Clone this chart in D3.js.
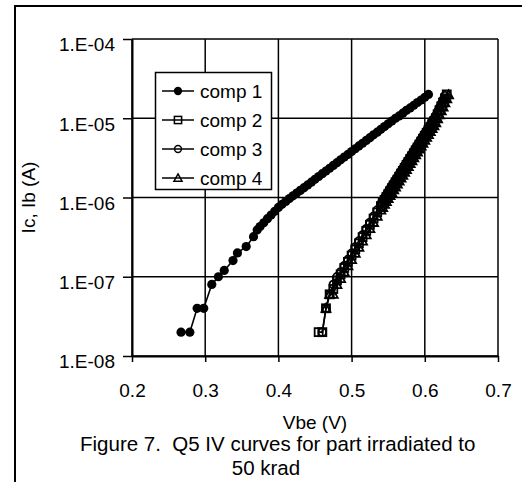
<!DOCTYPE html>
<html><head><meta charset="utf-8">
<script src="https://cdn.jsdelivr.net/npm/d3@7"></script>
<style>
html,body{margin:0;padding:0;background:#fff;}
svg{display:block;}
text{font-family:"Liberation Sans",Arial,sans-serif;fill:#000;}
</style></head>
<body><svg id="c" width="522" height="482"></svg>
<script>
const xTicks = [0.2, 0.3, 0.4, 0.5, 0.6, 0.7];
const yTicks = [1e-8, 1e-7, 1e-6, 1e-5, 1e-4];
const yTickLabels = ["1.E-08", "1.E-07", "1.E-06", "1.E-05", "1.E-04"];
const seriesNames = ["comp 1", "comp 2", "comp 3", "comp 4"];

const comp1Vbe = [0.267,0.279,0.289,0.298,0.309,0.318,0.326,0.338,0.344,0.356,0.366,0.371,
  0.375,0.38,0.385,0.39,0.395,0.40,0.405,0.41,0.415,0.42,0.425,0.43,0.435,0.44,0.445,0.45,
  0.455,0.46,0.465,0.47,0.475,0.48,0.485,0.49,0.495,0.50,0.505,0.51,0.515,0.52,0.525,0.53,
  0.535,0.54,0.545,0.55,0.555,0.56,0.565,0.57,0.575,0.58,0.585,0.59,0.595,0.60,0.605];
const comp1I = [2e-8,2e-8,4e-8,4e-8,8e-8,1.0e-7,1.2e-7,1.6e-7,2.0e-7,2.4e-7,3.2e-7,3.9e-7,
  4.3e-7,4.8e-7,5.4e-7,6.0e-7,6.7e-7,7.5e-7,8.2e-7,8.9e-7,9.7e-7,1.05e-6,1.14e-6,1.23e-6,1.33e-6,1.44e-6,1.56e-6,1.70e-6,
  1.84e-6,2.0e-6,2.16e-6,2.34e-6,2.54e-6,2.75e-6,2.99e-6,3.24e-6,3.5e-6,3.8e-6,4.12e-6,4.47e-6,4.84e-6,5.25e-6,5.69e-6,6.17e-6,
  6.68e-6,7.24e-6,7.85e-6,8.5e-6,9.2e-6,1.0e-5,1.07e-5,1.16e-5,1.26e-5,1.35e-5,1.46e-5,1.58e-5,1.70e-5,1.84e-5,2.0e-5];

const comp2Vbe = [0.455,0.46,0.465,0.47,0.475,0.48,0.485,0.49,0.495,0.50,0.505,0.51,0.515,0.52,0.525,0.53,0.535,0.54,
  0.5425,0.545,0.5475,0.55,0.5525,0.555,0.5575,0.56,0.5625,0.565,0.5675,0.57,0.5725,0.575,0.5775,0.58,0.5825,0.585,
  0.5875,0.59,0.5925,0.595,0.5975,0.60,0.6025,0.605,0.6075,0.61,0.6125,0.615,0.6175,0.62,0.6225,0.625,0.6275,0.63];
const comp2I = [2e-8,2e-8,4e-8,6e-8,7e-8,9e-8,1.07e-7,1.29e-7,1.54e-7,1.85e-7,2.21e-7,2.64e-7,3.16e-7,3.79e-7,4.53e-7,5.42e-7,6.49e-7,7.78e-7,
  8.55e-7,9.31e-7,1.01e-6,1.10e-6,1.20e-6,1.31e-6,1.42e-6,1.55e-6,1.68e-6,1.83e-6,2.0e-6,2.17e-6,2.36e-6,2.57e-6,2.80e-6,3.05e-6,3.31e-6,3.61e-6,
  3.93e-6,4.27e-6,4.65e-6,5.06e-6,5.51e-6,6.0e-6,6.52e-6,7.1e-6,7.73e-6,8.41e-6,9.15e-6,1.0e-5,1.12e-5,1.26e-5,1.41e-5,1.58e-5,1.78e-5,2.0e-5];

const comp3Vbe = [0.46,0.465,0.47,0.475,0.48,0.485,0.49,0.495,0.50,0.505,0.51,0.515,0.52,0.525,0.53,0.535,0.54,
  0.5425,0.545,0.5475,0.55,0.5525,0.555,0.5575,0.56,0.5625,0.565,0.5675,0.57,0.5725,0.575,0.5775,0.58,0.5825,0.585,
  0.5875,0.59,0.5925,0.595,0.5975,0.60,0.6025,0.605,0.6075,0.61,0.6125,0.615,0.6175,0.62,0.6225,0.625,0.6275];
const comp3I = [2e-8,4e-8,6e-8,8e-8,1.0e-7,1.15e-7,1.38e-7,1.65e-7,1.98e-7,2.37e-7,2.83e-7,3.38e-7,4.05e-7,4.85e-7,5.8e-7,6.95e-7,8.3e-7,
  9.2e-7,1.0e-6,1.09e-6,1.19e-6,1.3e-6,1.41e-6,1.53e-6,1.67e-6,1.81e-6,1.97e-6,2.15e-6,2.34e-6,2.54e-6,2.77e-6,3.02e-6,3.29e-6,3.57e-6,3.89e-6,
  4.24e-6,4.6e-6,5.01e-6,5.45e-6,5.94e-6,6.46e-6,7.03e-6,7.65e-6,8.33e-6,9.07e-6,9.87e-6,1.08e-5,1.21e-5,1.36e-5,1.52e-5,1.71e-5,1.93e-5];

const comp4Vbe = [0.465,0.47,0.475,0.48,0.485,0.49,0.495,0.50,0.505,0.51,0.515,0.52,0.525,0.53,0.535,0.54,
  0.5425,0.545,0.5475,0.55,0.5525,0.555,0.5575,0.56,0.5625,0.565,0.5675,0.57,0.5725,0.575,0.5775,0.58,0.5825,0.585,
  0.5875,0.59,0.5925,0.595,0.5975,0.60,0.6025,0.605,0.6075,0.61,0.6125,0.615,0.6175,0.62,0.6225,0.625,0.6275,0.63,0.6325];
const comp4I = [4e-8,6e-8,6e-8,8e-8,9.5e-8,1.15e-7,1.38e-7,1.65e-7,1.98e-7,2.36e-7,2.82e-7,3.38e-7,4.05e-7,4.85e-7,5.8e-7,6.95e-7,
  7.5e-7,8.2e-7,8.9e-7,9.7e-7,1.06e-6,1.15e-6,1.25e-6,1.36e-6,1.48e-6,1.61e-6,1.76e-6,1.91e-6,2.08e-6,2.26e-6,2.46e-6,2.68e-6,2.91e-6,3.18e-6,
  3.46e-6,3.76e-6,4.09e-6,4.45e-6,4.85e-6,5.28e-6,5.74e-6,6.25e-6,6.8e-6,7.4e-6,8.05e-6,8.8e-6,9.85e-6,1.11e-5,1.24e-5,1.39e-5,1.57e-5,1.76e-5,1.98e-5];

const series = [
  {name: seriesNames[0], vbe: comp1Vbe, ic: comp1I, marker: "dot"},
  {name: seriesNames[1], vbe: comp2Vbe, ic: comp2I, marker: "square"},
  {name: seriesNames[2], vbe: comp3Vbe, ic: comp3I, marker: "circle"},
  {name: seriesNames[3], vbe: comp4Vbe, ic: comp4I, marker: "triangle"}
];

const svg = d3.select("#c");
const FS = 19;
const FONT = '"Liberation Sans",Arial,sans-serif';
const L = 132, R = 498, T = 39, B = 356;
const x = d3.scaleLinear().domain([0.2, 0.7]).range([L, R]);
const y = d3.scaleLog().domain([1e-8, 1e-4]).range([B, T]);

// outer frame (left and top edges)
svg.append("path").attr("d", "M15,482V6H522").attr("fill", "none").attr("stroke", "#000").attr("stroke-width", 2);

// gridlines
const g = svg.append("g");
g.selectAll("line.hg").data(yTicks).enter().append("line")
  .attr("x1", L).attr("x2", R).attr("y1", d => y(d)).attr("y2", d => y(d))
  .attr("stroke", "#000").attr("stroke-width", 1.5);
g.selectAll("line.vg").data(xTicks).enter().append("line")
  .attr("y1", T).attr("y2", B).attr("x1", d => x(d)).attr("x2", d => x(d))
  .attr("stroke", "#000").attr("stroke-width", 1.5);

// axes
const xAxis = d3.axisBottom(x).tickValues(xTicks).tickSize(6).tickSizeOuter(0).tickPadding(22).tickFormat(d3.format(".1f"));
const xa = svg.append("g").attr("transform", `translate(0,${B})`).call(xAxis);
const yAxis = d3.axisLeft(y).tickValues(yTicks).tickSize(9).tickSizeOuter(0).tickPadding(8)
  .tickFormat(d => yTickLabels[yTicks.indexOf(d)]);
const ya = svg.append("g").attr("transform", `translate(${L},0)`).call(yAxis);
[xa, ya].forEach(a => {
  a.selectAll("path.domain").attr("stroke", "#000").attr("stroke-width", 2);
  a.selectAll(".tick line").attr("stroke", "#000").attr("stroke-width", 1.5);
  a.selectAll(".tick text").attr("font-size", FS).attr("font-family", FONT).attr("fill", "#000");
});
ya.selectAll(".tick text").attr("dy", "0.62em");

// series
const line = d3.line().x(d => x(d[0])).y(d => y(d[1]));
function drawMarker(sel, type, cx, cy, s, sw) {
  if (type === "dot") {
    sel.append("circle").attr("cx", cx).attr("cy", cy).attr("r", 4.6*s).attr("fill", "#000");
  } else if (type === "square") {
    sel.append("rect").attr("x", cx - 4*s).attr("y", cy - 4*s).attr("width", 8*s).attr("height", 8*s)
      .attr("fill", "none").attr("stroke", "#000").attr("stroke-width", sw);
  } else if (type === "circle") {
    sel.append("circle").attr("cx", cx).attr("cy", cy).attr("r", 3.8*s)
      .attr("fill", "none").attr("stroke", "#000").attr("stroke-width", sw);
  } else {
    const h = 4.5*s;
    sel.append("path").attr("d", `M${cx},${cy - h}L${cx + h},${cy + h*0.8}L${cx - h},${cy + h*0.8}Z`)
      .attr("fill", "none").attr("stroke", "#000").attr("stroke-width", sw);
  }
}
series.slice().reverse().forEach(s => {
  const pts = s.vbe.map((v, i) => [v, s.ic[i]]);
  const gs = svg.append("g");
  gs.append("path").attr("d", line(pts)).attr("fill", "none").attr("stroke", "#000").attr("stroke-width", 1.6);
  pts.forEach(p => drawMarker(gs, s.marker, x(p[0]), y(p[1]), 1, 1.8));
});

// legend
const lg = svg.append("g");
lg.append("rect").attr("x", 155.5).attr("y", 72.5).attr("width", 116).attr("height", 117)
  .attr("fill", "#fff").attr("stroke", "#000").attr("stroke-width", 1.5);
series.forEach((s, i) => {
  const yy = 91 + i * 29;
  lg.append("line").attr("x1", 162).attr("x2", 194).attr("y1", yy).attr("y2", yy).attr("stroke", "#000").attr("stroke-width", 1.5);
  drawMarker(lg, s.marker, 178, yy, 0.9, 1.5);
  lg.append("text").attr("x", 200).attr("y", yy).attr("dy", "0.35em").attr("font-size", FS).text(s.name);
});

// axis titles and caption
svg.append("text").attr("transform", `translate(28,${(T + B) / 2}) rotate(-90)`).attr("text-anchor", "middle")
  .attr("dy", "0.35em").attr("font-size", FS).text("Ic, Ib (A)");
svg.append("text").attr("x", (L + R) / 2).attr("y", 429).attr("text-anchor", "middle").attr("font-size", FS).text("Vbe (V)");
svg.append("text").attr("x", 80).attr("y", 451).attr("text-anchor", "start").attr("font-size", 20.5)
  .style("white-space", "pre").text("Figure 7.  Q5 IV curves for part irradiated to");
svg.append("text").attr("x", 266).attr("y", 475).attr("text-anchor", "middle").attr("font-size", 20.5).text("50 krad");
</script></body></html>
